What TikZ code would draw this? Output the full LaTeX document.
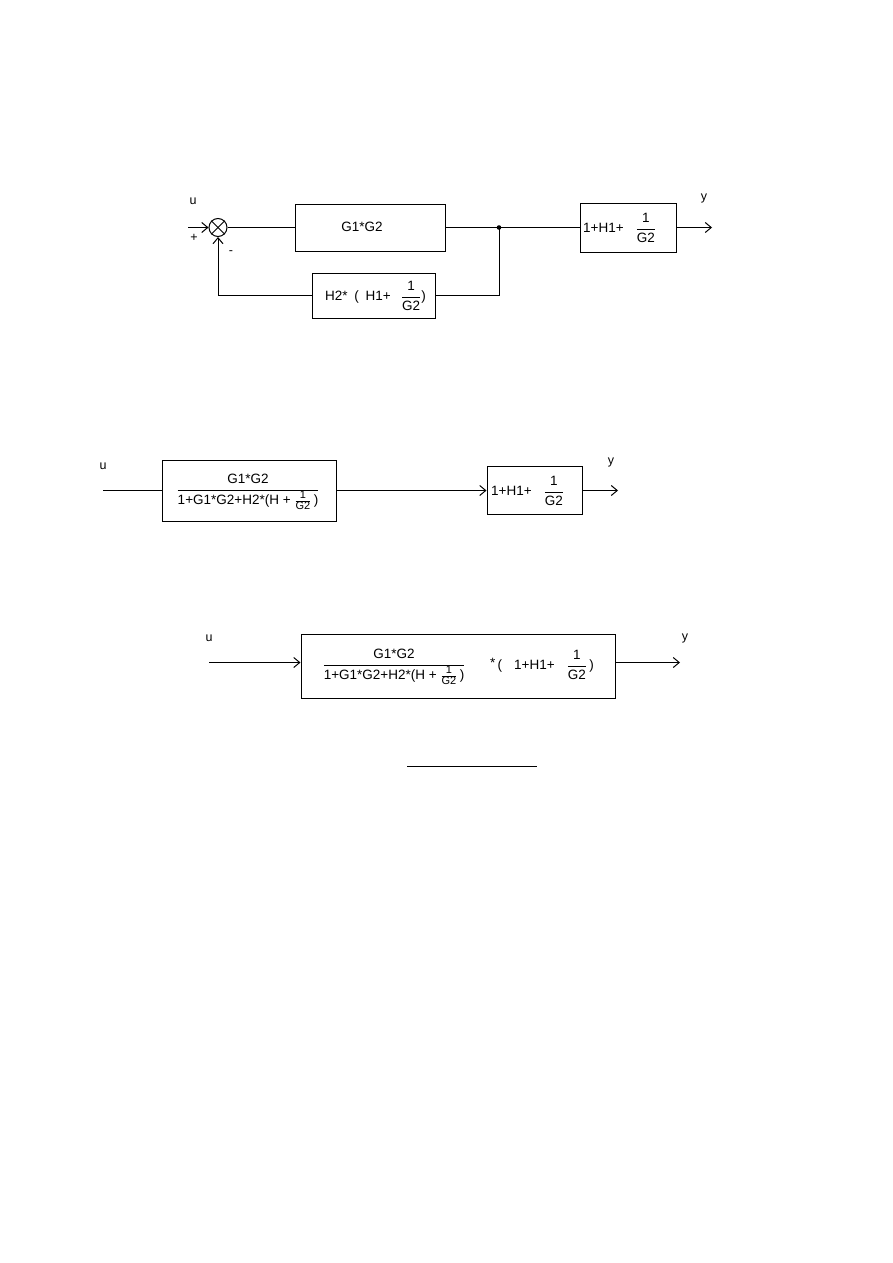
\documentclass[tikz,border=0pt]{standalone}
\usepackage{fontspec}
\setmainfont{Liberation Sans}
\usetikzlibrary{arrows.meta}
\newcommand{\tfr}[2]{$\displaystyle\frac{\mbox{#1}}{\mbox{#2}}$}
\newcommand{\sfr}[2]{$\frac{\mbox{\fontsize{11}{11}\selectfont #1}}{\mbox{\fontsize{11}{11}\selectfont #2}}$}
\tikzset{
  every node/.style={font=\fontsize{13.5}{15}\selectfont, inner sep=0pt},
  box/.style={draw, line width=1pt},
  wire/.style={line width=1pt},
  arr/.style={wire, -{Straight Barb[length=6pt,width=10pt,line width=1pt]}},
  lbl/.style={font=\fontsize{12.5}{14}\selectfont}
}
\begin{document}
\begin{tikzpicture}[x=1pt,y=-1pt]
\useasboundingbox[fill=white] (0,0) rectangle (893,1263);
% ---------- top diagram ----------
\node[lbl] (u1) at (193,201) {u};
\node[circle, draw, line width=1pt, minimum size=18pt] (sum) at (218,227.5) {};
\draw[wire] (sum.north west) -- (sum.south east);
\draw[wire] (sum.north east) -- (sum.south west);
\node[lbl] (plus) at (194,238) {+};
\node[lbl] (minus) at (231,253) {-};
\coordinate (in1) at (188,227.5);
\node[box, minimum width=150pt, minimum height=47pt] (g) at (370,227.5) {};
\node (gt) at (362,227) {G1*G2};
\node[box, minimum width=123pt, minimum height=45pt] (h) at (373.5,295.5) {};
\node[anchor=west] (ht) at (325,296) {H2*\enspace(\enspace H1+\hspace{10pt}\tfr{1}{G2})};
\node[box, minimum width=96pt, minimum height=49pt] (c) at (628,227.5) {};
\node[anchor=west] (ct) at (583,228) {1+H1+\hspace{12pt}\tfr{1}{G2}};
\coordinate (dot) at (499,227.5);
\fill (dot) circle (2.3pt);
\coordinate (out1) at (712,227.5);
\node[lbl] (y1) at (704,198) {y};
\coordinate (fb1) at (499,295.5);
\coordinate (fb2) at (218,295.5);
\draw[arr] (in1) -- (sum.west);
\draw[wire] (sum.east) -- (g.west);
\draw[wire] (g.east) -- (dot) -- (c.west);
\draw[arr] (c.east) -- (out1);
\draw[wire] (dot) -- (fb1) -- (h.east);
\draw[arr] (h.west) -- (fb2) -- (sum.south);
% ---------- middle diagram ----------
\node[lbl] (u2) at (103,466) {u};
\coordinate (in2) at (103,490.5);
\node[box, minimum width=174pt, minimum height=61pt] (m1) at (249,490.5) {};
\node (m1t) at (248,492) {$\displaystyle\frac{\mbox{G1*G2}}{\mbox{1+G1*G2+H2*(H + \sfr{1}{G2}\,)}}$};
\node[box, minimum width=95pt, minimum height=48pt] (m2) at (534.5,490.5) {};
\node[anchor=west] (m2t) at (491,491) {1+H1+\hspace{12pt}\tfr{1}{G2}};
\coordinate (out2) at (618,490.5);
\node[lbl] (y2) at (611,462) {y};
\draw[wire] (in2) -- (m1.west);
\draw[arr] (m1.east) -- (m2.west);
\draw[arr] (m2.east) -- (out2);
% ---------- bottom diagram ----------
\node[lbl] (u3) at (209,638) {u};
\coordinate (in3) at (209,662.5);
\node[box, minimum width=314pt, minimum height=64pt] (b) at (458,666) {};
\node (bt1) at (394,667) {$\displaystyle\frac{\mbox{G1*G2}}{\mbox{1+G1*G2+H2*(H + \sfr{1}{G2}\,)}}$};
\node[anchor=west] (bt2) at (490,665) {\raisebox{2pt}{*}\,(\hspace{12pt}1+H1+\hspace{12pt}\tfr{1}{G2}\,)};
\coordinate (out3) at (680,662.5);
\node[lbl] (y3) at (685,638) {y};
\draw[arr] (in3) -- (b.west |- in3);
\draw[arr] (b.east |- out3) -- (out3);
% ---------- bottom rule ----------
\coordinate (r1) at (407,766.5);
\coordinate (r2) at (537,766.5);
\draw[wire] (r1) -- (r2);
\end{tikzpicture}
\end{document}
